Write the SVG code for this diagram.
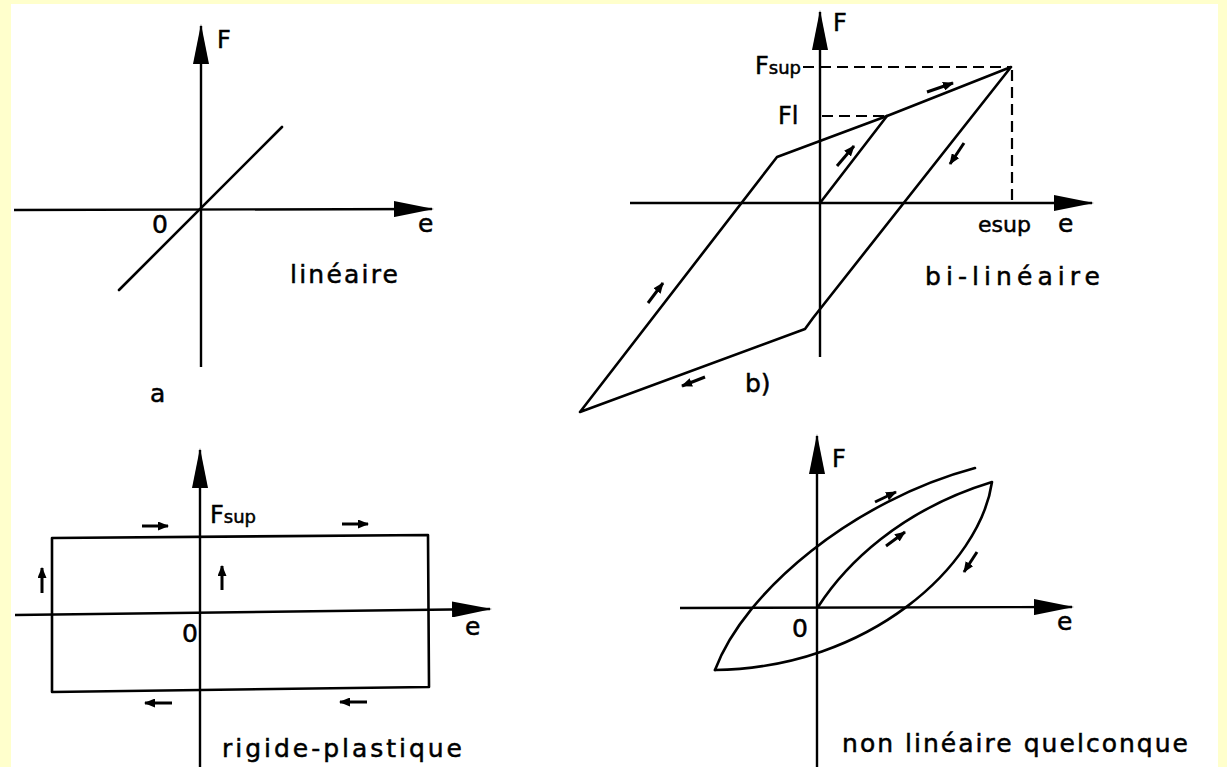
<svg xmlns="http://www.w3.org/2000/svg" width="1227" height="767" viewBox="0 0 1227 767">
<defs>
<style>
.ln{fill:none;stroke:#000;stroke-width:2.6;stroke-linecap:round;stroke-linejoin:round}
.ax{fill:none;stroke:#000;stroke-width:2.4;marker-end:url(#axh)}
.da{fill:none;stroke:#000;stroke-width:2.2;stroke-dasharray:11 6}
.sa{fill:none;stroke:#000;stroke-width:3;marker-end:url(#sh)}
text{font-family:"DejaVu Sans","Liberation Sans",sans-serif;fill:#000;stroke:#000;stroke-width:0.5;font-size:25px}
.sm{font-size:18px}
</style>
<marker id="axh" viewBox="0 0 40 16" refX="38" refY="8" markerWidth="40" markerHeight="16" markerUnits="userSpaceOnUse" orient="auto">
<path d="M0,0 L40,8 L0,16 Z" fill="#000"/>
</marker>
<marker id="sh" viewBox="0 0 11 9" refX="10" refY="4.5" markerWidth="11" markerHeight="9" markerUnits="userSpaceOnUse" orient="auto">
<path d="M0,0 L11,4.5 L0,9 Z" fill="#000"/>
</marker>
</defs>
<rect x="0" y="0" width="1227" height="767" fill="#FFFFCC"/>
<rect x="11" y="4" width="1207" height="763" fill="#FFFFFF"/>

<g id="panel-a">
<line class="ax" x1="201" y1="367" x2="201" y2="26"/>
<line class="ax" x1="14" y1="210" x2="432" y2="209"/>
<line class="ln" x1="119" y1="290" x2="282" y2="127"/>
<text x="217" y="48" style="font-size:24px">F</text>
<text x="152" y="233">0</text>
<text x="418" y="232">e</text>
<text x="290" y="283" textLength="108" lengthAdjust="spacing">linéaire</text>
<text x="150" y="402">a</text>
</g>

<g id="panel-b">
<line class="ax" x1="820" y1="357" x2="820" y2="12"/>
<line class="ax" x1="630" y1="203" x2="1092" y2="203"/>
<line class="da" x1="803" y1="67" x2="1011" y2="67"/>
<line class="da" x1="822" y1="116" x2="887" y2="116"/>
<line class="da" x1="1012" y1="70" x2="1012" y2="203"/>
<path class="ln" d="M1011,67 L887,116 L777,157 L580,412 L805,329 L813,318 Z"/>
<line class="ln" x1="820" y1="203" x2="887" y2="116"/>
<line class="sa" x1="927" y1="92" x2="953" y2="83"/>
<line class="sa" x1="837" y1="166" x2="854" y2="146"/>
<line class="sa" x1="964" y1="143" x2="950" y2="164"/>
<line class="sa" x1="648" y1="303" x2="663" y2="283"/>
<line class="sa" x1="705" y1="377" x2="682" y2="386"/>
<text x="833" y="31" style="font-size:24px">F</text>
<text x="755" y="74" style="font-size:24px">F<tspan class="sm">sup</tspan></text>
<text x="778" y="124" style="font-size:24px">Fl</text>
<text x="978" y="232" style="font-size:22px">esup</text>
<text x="1058" y="232">e</text>
<text x="925" y="285" textLength="175" lengthAdjust="spacing">bi-linéaire</text>
<text x="745" y="392">b)</text>
</g>

<g id="panel-c">
<line class="ax" x1="200" y1="767" x2="200" y2="450"/>
<line class="ax" x1="15" y1="615" x2="490" y2="609"/>
<path class="ln" d="M52,538 L428,535 L429,687 L52,692 Z"/>
<line class="sa" x1="142" y1="526" x2="168" y2="526"/>
<line class="sa" x1="342" y1="524" x2="368" y2="524"/>
<line class="sa" x1="172" y1="703" x2="145" y2="703"/>
<line class="sa" x1="367" y1="702" x2="340" y2="702"/>
<line class="sa" x1="42" y1="593" x2="42" y2="568"/>
<line class="sa" x1="222" y1="590" x2="222" y2="566"/>
<text x="210" y="523" style="font-size:24px">F<tspan class="sm">sup</tspan></text>
<text x="182" y="642">0</text>
<text x="465" y="635">e</text>
<text x="222" y="757" textLength="240" lengthAdjust="spacing">rigide-plastique</text>
</g>

<g id="panel-d">
<line class="ax" x1="817" y1="767" x2="817" y2="436"/>
<line class="ax" x1="680" y1="608" x2="1072" y2="607"/>
<path class="ln" d="M715,670 C745,590 855,500 975,468"/>
<path class="ln" d="M818,607 C845,565 900,510 992,482 C980,565 870,668 715,670"/>
<line class="sa" x1="875" y1="502" x2="896" y2="492"/>
<line class="sa" x1="886" y1="546" x2="905" y2="532"/>
<line class="sa" x1="977" y1="552" x2="964" y2="572"/>
<text x="832" y="467" style="font-size:24px">F</text>
<text x="792" y="637">0</text>
<text x="1057" y="630">e</text>
<text x="842" y="752" textLength="346" lengthAdjust="spacing">non linéaire quelconque</text>
</g>
</svg>
